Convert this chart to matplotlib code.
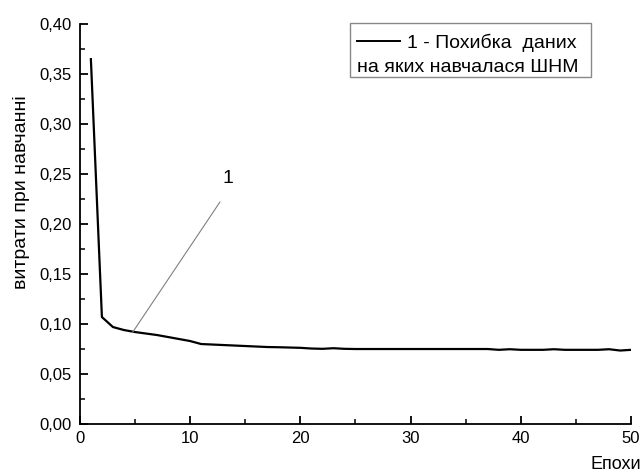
import numpy as np
import matplotlib.pyplot as plt
from matplotlib.ticker import MultipleLocator, FuncFormatter
from matplotlib.patches import Rectangle

plt.rcParams['font.family'] = ['Liberation Sans', 'DejaVu Sans']

### Training error per epoch
epochs = np.arange(1, 51)
error = [0.365, 0.107, 0.097, 0.094, 0.092, 0.0905, 0.089, 0.087, 0.085, 0.083,
         0.080, 0.0795, 0.079, 0.0785, 0.078, 0.0775, 0.077, 0.0768, 0.0765, 0.0762,
         0.0755, 0.0752, 0.0758, 0.0752, 0.075, 0.075, 0.075, 0.075, 0.075, 0.075,
         0.075, 0.075, 0.075, 0.075, 0.075, 0.075, 0.075, 0.0742, 0.0748, 0.0742,
         0.0742, 0.0742, 0.0748, 0.0742, 0.0742, 0.0742, 0.0742, 0.0748, 0.0735, 0.0742]

# pointer from curve to the "1" label
pointer_x = [4.8, 12.7]
pointer_y = [0.092, 0.222]

fig = plt.figure(figsize=(6.44, 4.74), dpi=100)
ax = fig.add_axes([0.124, 0.1055, 0.856, 0.8435])

ax.plot(epochs, error, color='black', lw=1.6)
ax.plot(pointer_x, pointer_y, color='gray', lw=0.8)
ax.text(13.4, 0.246, '1', fontsize=14, ha='center', va='center')

ax.set_xlim(0, 50)
ax.set_ylim(0, 0.40)
ax.xaxis.set_major_locator(MultipleLocator(10))
ax.xaxis.set_minor_locator(MultipleLocator(5))
ax.yaxis.set_major_locator(MultipleLocator(0.05))
ax.yaxis.set_minor_locator(MultipleLocator(0.025))
ax.yaxis.set_major_formatter(FuncFormatter(lambda v, p: ('%.2f' % v).replace('.', ',')))

for s in ['top', 'right']:
    ax.spines[s].set_visible(False)
for s in ['left', 'bottom']:
    ax.spines[s].set_linewidth(1.3)

ax.tick_params(which='major', direction='in', length=6, width=1.3, labelsize=12, pad=5)
ax.tick_params(which='minor', direction='in', length=3.5, width=1.1)
ax.tick_params(axis='y', pad=6)

fig.text(22 / 644, 0.595, 'витрати при навчанні', fontsize=14, rotation=90,
         ha='center', va='center')
fig.text(0.996, 0.019, 'Епохи', fontsize=13, ha='right', va='center')

# legend drawn by hand so the handle sits on the first line only
ax.add_patch(Rectangle((0.490, 0.8675), 0.437, 0.135, transform=ax.transAxes,
                       fill=False, edgecolor='#888888', lw=1, clip_on=False))
ax.plot([0.503, 0.581], [0.9575, 0.9575], color='black', lw=1.4,
        transform=ax.transAxes, clip_on=False)
ax.text(0.593, 0.94, '1 - Похибка  даних', transform=ax.transAxes,
        fontsize=14, va='baseline', ha='left')
ax.text(0.503, 0.88, 'на яких навчалася ШНМ', transform=ax.transAxes,
        fontsize=14, va='baseline', ha='left')

fig.savefig('out.png', dpi=100)
